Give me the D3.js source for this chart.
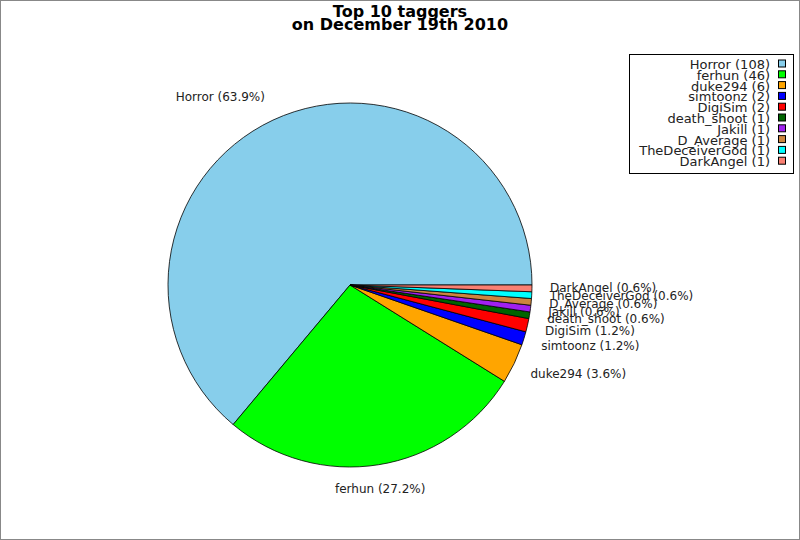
<!DOCTYPE html>
<html>
<head>
<meta charset="utf-8">
<script src="https://cdn.jsdelivr.net/npm/d3@7/dist/d3.min.js"></script>
<style>
  body { margin: 0; background: #fff; }
  svg text { font-family: "DejaVu Sans", sans-serif; }
</style>
</head>
<body>
<script>
// data
var names = ["Horror", "ferhun", "duke294", "simtoonz", "DigiSim", "death_shoot", "Jakill", "D_Average", "TheDeceiverGod", "DarkAngel"];
var counts = [108, 46, 6, 2, 2, 1, 1, 1, 1, 1];
var colors = ["#87ceeb", "#00ff00", "#ffa500", "#0000ff", "#ff0000", "#006400", "#a020f0", "#cd853f", "#00ffff", "#fa8072"];
var titleLines = ["Top 10 taggers", "on December 19th 2010"];

var width = 800, height = 540;
var cx = 350, cy = 285, r = 182;
var labelR = r + 18;

var svg = d3.select("body").append("svg")
    .attr("width", width)
    .attr("height", height);

// frame
svg.append("rect")
    .attr("x", 0.5).attr("y", 0.5)
    .attr("width", width - 1).attr("height", height - 1)
    .attr("fill", "#fff")
    .attr("stroke", "#888");

// title
svg.selectAll("text.title")
    .data(titleLines)
    .enter().append("text")
    .attr("class", "title")
    .attr("x", 400)
    .attr("y", function(d, i) { return 17 + i * 13; })
    .attr("text-anchor", "middle")
    .attr("font-size", 16)
    .attr("font-weight", "bold")
    .text(function(d) { return d; });

var total = d3.sum(counts);
var data = names.map(function(n, i) { return {name: n, value: counts[i], color: colors[i]}; });

// counter clockwise from 3 o'clock
var pie = d3.pie()
    .sort(null)
    .value(function(d) { return d.value; })
    .startAngle(Math.PI / 2)
    .endAngle(Math.PI / 2 - 2 * Math.PI);

var arc = d3.arc().innerRadius(0).outerRadius(r);
var arcs = pie(data);

var g = svg.append("g").attr("transform", "translate(" + cx + "," + cy + ")");
g.selectAll("path")
    .data(arcs)
    .enter().append("path")
    .attr("d", arc)
    .attr("fill", function(d) { return d.data.color; })
    .attr("stroke", "#000")
    .attr("stroke-width", 0.8);

// labels, placed like jpgraph does it
var fmt = d3.format(".1f");
var h = 13;
arcs.forEach(function(d) {
	var a = Math.PI / 2 - (d.startAngle + d.endAngle) / 2;
	a = ((a % (2 * Math.PI)) + 2 * Math.PI) % (2 * Math.PI);
	var deg = a * 180 / Math.PI;
	var dx, dy;
	if (deg >= 315 || deg <= 45) dx = 0;
	else if (deg <= 135) dx = (deg - 45) / 90;
	else if (deg <= 225) dx = 1;
	else dx = 1 - (deg - 225) / 90;
	if (deg >= 315) dy = (deg - 315) / 90;
	else if (deg <= 45) dy = 1 - deg / 90;
	else if (deg <= 135) dy = 1;
	else if (deg <= 225) dy = 1 - (deg - 135) / 90;
	else dy = 0;

	var xt = cx + labelR * Math.cos(a);
	var yt = cy - labelR * Math.sin(a);
	var t = svg.append("text")
	    .attr("font-size", 12)
	    .attr("fill", "#222")
	    .text(d.data.name + " (" + fmt(d.data.value / total * 100) + "%)");
	var w = t.node().getComputedTextLength() + 26;
	t.attr("x", xt - dx * w)
	 .attr("y", yt - dy * h + 10);
});

// legend
var lx = 629.5, ly = 54.5, lw = 164, lh = 119, rowH = 10.8;
svg.append("rect")
    .attr("x", lx).attr("y", ly)
    .attr("width", lw).attr("height", lh)
    .attr("fill", "#fff")
    .attr("stroke", "#000");

var leg = svg.selectAll("g.leg")
    .data(data)
    .enter().append("g")
    .attr("class", "leg")
    .attr("transform", function(d, i) { return "translate(0," + (ly + 14.5 + i * rowH) + ")"; });

leg.append("text")
    .attr("x", 770)
    .attr("text-anchor", "end")
    .attr("font-size", 13)
    .attr("fill", "#222")
    .text(function(d) { return d.name + " (" + d.value + ")"; });

leg.append("rect")
    .attr("x", 778.5).attr("y", -9)
    .attr("width", 7).attr("height", 7)
    .attr("fill", function(d) { return d.color; })
    .attr("stroke", "#000");
</script>
</body>
</html>
